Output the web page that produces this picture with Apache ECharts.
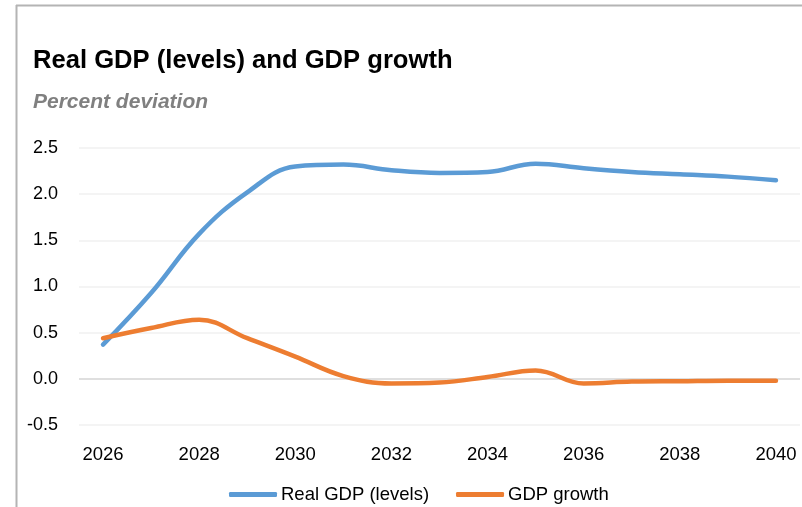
<!DOCTYPE html>
<html>
<head>
<meta charset="utf-8">
<script src="https://cdn.jsdelivr.net/npm/echarts@6/dist/echarts.min.js"></script>
<style>
  html, body { margin: 0; padding: 0; background: #fff; }
  #chart { width: 802px; height: 507px; }
</style>
</head>
<body>
<div id="chart"></div>
<script>
// Years on the horizontal axis
const years = ['2026','2027','2028','2029','2030','2031','2032','2033','2034','2035','2036','2037','2038','2039','2040'];

// Real GDP, percent deviation in levels
const realGdpLevels = [0.37, 0.93, 1.57, 2.02, 2.30, 2.32, 2.26, 2.23, 2.24, 2.33, 2.28, 2.24, 2.215, 2.19, 2.15];

// GDP growth, percent deviation
const gdpGrowth = [0.44, 0.55, 0.64, 0.44, 0.24, 0.03, -0.05, -0.04, 0.02, 0.09, -0.05, -0.03, -0.025, -0.02, -0.02];

const seriesNames = ['Real GDP (levels)', 'GDP growth'];
const seriesColors = ['#5B9BD5', '#ED7D31'];

const FONT = '"Liberation Sans", Arial, sans-serif';

const chart = echarts.init(document.getElementById('chart'), null, { renderer: 'canvas' });

chart.setOption({
  backgroundColor: '#ffffff',
  animation: false,
  title: [
    {
      text: 'Real GDP (levels) and GDP growth',
      left: 28, top: 43,
      textStyle: { fontFamily: FONT, fontSize: 25.6, fontWeight: 'bold', color: '#000000' }
    },
    {
      text: 'Percent deviation',
      left: 28, top: 87,
      textStyle: { fontFamily: FONT, fontSize: 21, fontWeight: 'bold', fontStyle: 'italic', color: '#808080' }
    }
  ],
  graphic: [
    { type: 'line', shape: { x1: 16, y1: 5.5, x2: 802, y2: 5.5 }, style: { stroke: '#B4B4B4', lineWidth: 2 } },
    { type: 'line', shape: { x1: 16.5, y1: 5, x2: 16.5, y2: 507 }, style: { stroke: '#B4B4B4', lineWidth: 2 } }
  ],
  legend: {
    left: 224, top: 480,
    itemWidth: 48, itemHeight: 5, itemGap: 27,
    icon: 'roundRect',
    textStyle: { fontFamily: FONT, fontSize: 18.5, color: '#000000', padding: [0, 0, 0, -1] },
    data: seriesNames
  },
  grid: { left: 79, right: 2, top: 148, bottom: 82, containLabel: false },
  xAxis: {
    type: 'category',
    data: years,
    boundaryGap: true,
    axisLine: { show: false },
    axisTick: { show: false },
    axisLabel: {
      interval: 1,
      margin: 20,
      fontFamily: FONT, fontSize: 18.5, color: '#000000'
    },
    splitLine: { show: false }
  },
  yAxis: {
    type: 'value',
    min: -0.5, max: 2.5, interval: 0.5,
    axisLine: { show: false },
    axisTick: { show: false },
    axisLabel: {
      margin: 21,
      fontFamily: FONT, fontSize: 18, color: '#000000',
      formatter: v => v.toFixed(1)
    },
    splitLine: { lineStyle: { color: '#F0F0F0', width: 1.5 } }
  },
  series: [
    {
      name: seriesNames[0],
      type: 'line',
      data: realGdpLevels,
      smooth: 0.4,
      showSymbol: false,
      symbol: 'none',
      color: seriesColors[0],
      lineStyle: { width: 4.5, color: seriesColors[0], cap: 'round' },
      markLine: {
        silent: true,
        symbol: 'none',
        label: { show: false },
        lineStyle: { color: '#D9D9D9', width: 1.5, type: 'solid' },
        data: [{ yAxis: 0 }],
        z: 1
      },
      z: 3
    },
    {
      name: seriesNames[1],
      type: 'line',
      data: gdpGrowth,
      smooth: 0.4,
      showSymbol: false,
      symbol: 'none',
      color: seriesColors[1],
      lineStyle: { width: 4.5, color: seriesColors[1], cap: 'round' },
      z: 4
    }
  ]
});
</script>
</body>
</html>
